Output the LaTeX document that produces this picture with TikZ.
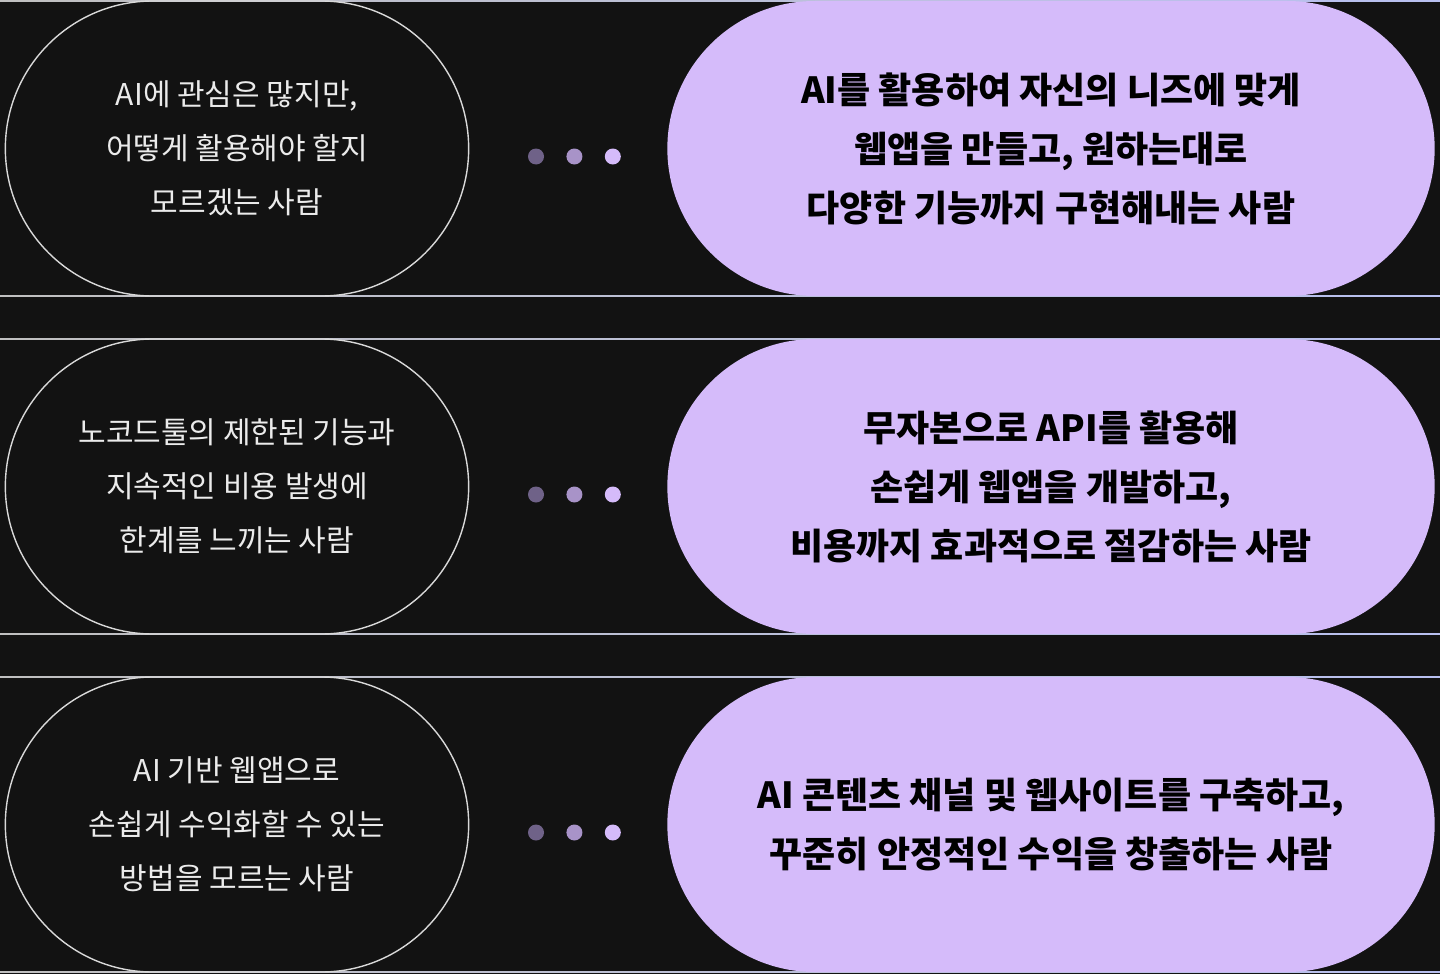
\documentclass[tikz,border=0pt]{standalone}
\usepackage{fontspec}
\setmainfont{Noto Sans CJK KR}
\usetikzlibrary{positioning,shapes.misc}
\definecolor{bgdark}{HTML}{121212}
\definecolor{lav}{HTML}{D5BBFA}
\definecolor{dotdark}{HTML}{6F6288}
\definecolor{dotmid}{HTML}{A893C8}
\definecolor{edgeline}{HTML}{B8C0F0}

\begin{document}
\begin{tikzpicture}[x=1pt,y=-1pt,
    ask/.style={rounded rectangle,draw=white!85!black,line width=1.4pt,minimum width=470pt,minimum height=295pt,
        text=white!92!black,align=center,font=\fontsize{30}{54}\selectfont},
    goal/.style={rounded rectangle,fill=lav,minimum width=774pt,minimum height=295pt,
        text=black,align=center,font=\bfseries\fontsize{36}{59}\selectfont},
    dot/.style={circle,inner sep=0pt,minimum size=16pt}]

    \fill[bgdark] (0,0) rectangle (1440,974);

    % top and bottom rules of each row
    \foreach \y in {1,296,339,634,677,972} {
        \shade[left color=white!75!black,right color=edgeline] (0,\y-0.7) rectangle (1440,\y+0.7);
    }

    \foreach \row/\yc in {1/148.5,2/486.5,3/824.5} {
        \node[dot,fill=dotdark] (d1\row) at (536,\yc+8) {};
        \node[dot,fill=dotmid,right=22pt of d1\row] (d2\row) {};
        \node[dot,fill=lav,right=22pt of d2\row] (d3\row) {};
    }

    \node[ask] (ask1) at (237,148.5) {AI에 관심은 많지만,\\어떻게 활용해야 할지\\모르겠는 사람};
    \node[goal] (goal1) at (1051,148.5) {AI를 활용하여 자신의 니즈에 맞게\\웹앱을 만들고, 원하는대로\\다양한 기능까지 구현해내는 사람};

    \node[ask] (ask2) at (237,486.5) {노코드툴의 제한된 기능과\\지속적인 비용 발생에\\한계를 느끼는 사람};
    \node[goal] (goal2) at (1051,486.5) {무자본으로 API를 활용해\\손쉽게 웹앱을 개발하고,\\비용까지 효과적으로 절감하는 사람};

    \node[ask] (ask3) at (237,824.5) {AI 기반 웹앱으로\\손쉽게 수익화할 수 있는\\방법을 모르는 사람};
    \node[goal] (goal3) at (1051,824.5) {AI 콘텐츠 채널 및 웹사이트를 구축하고,\\꾸준히 안정적인 수익을 창출하는 사람};

\end{tikzpicture}
\end{document}
